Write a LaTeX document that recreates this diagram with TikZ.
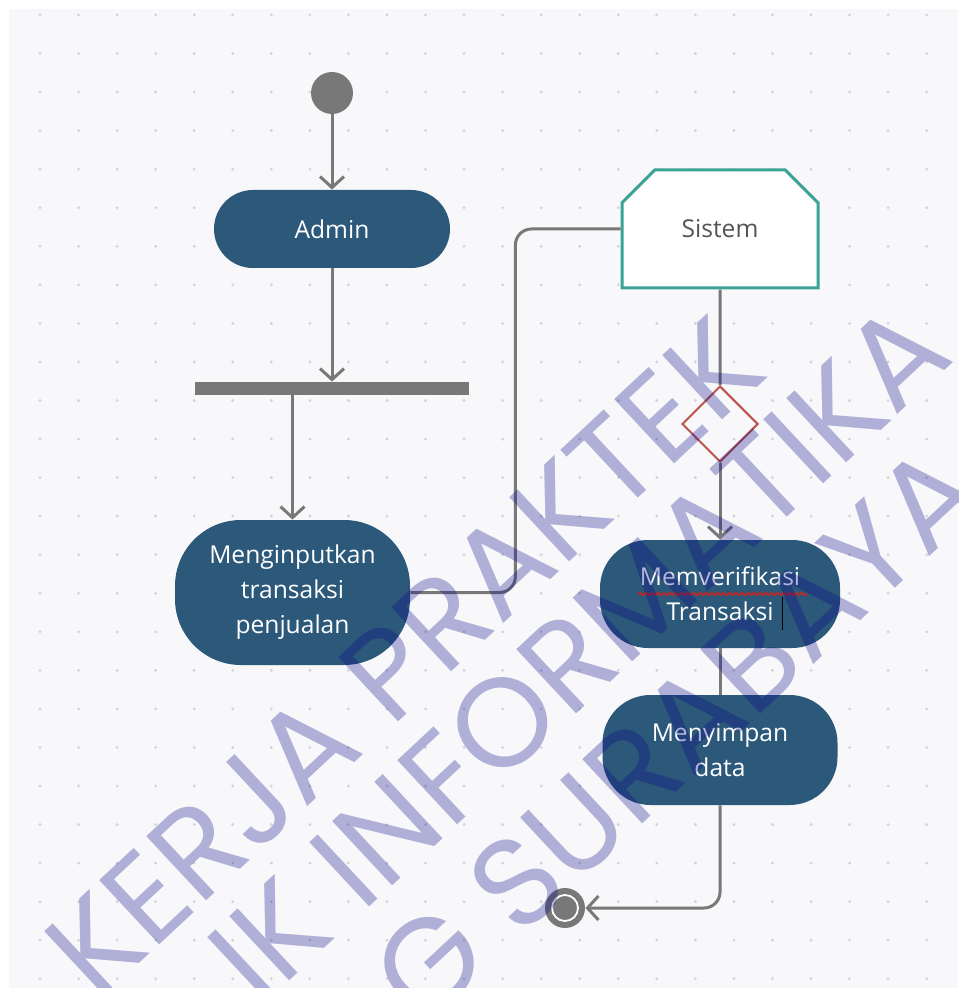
\documentclass[tikz,border=0pt]{standalone}
\usepackage{fontspec}
\setsansfont{Open Sans}
\newfontfamily\wmfont{Poppins}
\usetikzlibrary{arrows.meta,positioning,calc,shapes.geometric,shapes.misc,decorations.pathmorphing}

\definecolor{actblue}{RGB}{44,88,122}
\definecolor{linegray}{RGB}{120,120,120}
\definecolor{systeal}{RGB}{58,163,150}
\definecolor{decred}{RGB}{188,82,78}
\definecolor{textgray}{RGB}{85,85,85}
\definecolor{canvas}{RGB}{248,248,250}
\definecolor{dotgray}{RGB}{212,212,218}
\definecolor{wmblue}{RGB}{8,8,137}
\definecolor{spellred}{RGB}{190,40,40}

\begin{document}
\begin{tikzpicture}[
    x=0.5pt, y=-0.5pt, % one unit = one pixel of the screenshot
    font=\sffamily\fontsize{12.3}{17.5}\selectfont,
    >={Straight Barb[length=5.5pt,width=12pt]},
    % shared styles
    flow/.style={draw=linegray, line width=1.5pt},
    activity/.style={
        rectangle,
        fill=actblue,
        text=white,
        align=center,
        inner sep=2pt
    },
    sysbox/.style={
        chamfered rectangle,
        chamfered rectangle corners={north west, north east},
        chamfered rectangle xsep=9pt,
        chamfered rectangle ysep=8.5pt,
        draw=systeal, line width=1.5pt, fill=white, text=textgray,
        minimum width=98pt, minimum height=59pt
    },
    decision/.style={diamond, draw=decred, line width=1pt, inner sep=0pt,
        minimum width=38pt, minimum height=38pt},
    forkbar/.style={rectangle, fill=linegray, inner sep=0pt,
        minimum width=137pt, minimum height=6.5pt},
    startdot/.style={circle, fill=linegray, inner sep=0pt, minimum size=21pt},
    enddot/.style={circle, fill=linegray, inner sep=0pt, minimum size=20pt},
    endring/.style={circle, draw=white, line width=0.9pt, inner sep=0pt, minimum size=13pt},
    watermark/.style={font=\wmfont\fontsize{63}{63}\selectfont, text=wmblue,
        text opacity=0.3, rotate=43, inner sep=0pt, anchor=mid west}
]
    % --- 0. Canvas with dot grid ---
    \fill[white] (0,0) rectangle (958,988);
    \fill[canvas] (9,9) rectangle (958,988);
    \foreach \i in {0,...,23}
        \foreach \j in {0,...,25}
            \fill[dotgray] ({40+38.55*\i},{15+38.55*\j}) circle[radius=1.6];
    \useasboundingbox (0,0) rectangle (958,988);

    % --- 1. Start ---
    \node[startdot] (start) at (332,93) {};

    % --- 2. Admin ---
    \node[activity, minimum width=118pt, minimum height=39pt, rounded corners=19.5pt] (admin) at (332,229) {Admin};

    % --- 3. Fork bar ---
    \node[forkbar] (fork) at (332,388.5) {};

    % --- 4. Menginputkan transaksi penjualan ---
    \node[activity, minimum width=117.5pt, minimum height=72.5pt, rounded corners=33pt] (input) at (292.5,592.5) {Menginputkan\\transaksi\\penjualan};

    % --- 5. Sistem ---
    \node[sysbox] (sistem) at (720,229) {Sistem};

    % --- 6. Decision ---
    \node[decision] (check) at (720,424) {};

    % --- 7. Memverifikasi Transaksi ---
    \node[activity, minimum width=120pt, minimum height=54pt, rounded corners=24pt] (verify) at (720,594) {Memverifikasi\\Transaksi};
    % spell-check underline and text cursor
    \draw[spellred, line width=0.9pt, decorate, decoration={snake, amplitude=0.6pt, segment length=3pt}]
        ($(verify.center)+(-82,0)$) -- ($(verify.center)+(87,0)$);
    \draw[black, line width=0.5pt] ($(verify.center)+(62,3)$) -- ($(verify.center)+(62,36)$);

    % --- 8. Menyimpan data ---
    \node[activity, minimum width=117.5pt, minimum height=55pt, rounded corners=24pt] (save) at (720,750) {Menyimpan\\data};

    % --- 9. End ---
    \node[enddot] (finish) at (565,908) {};
    \node[endring] (finishring) at (finish) {};

    % --- 10. Arrows ---
    \draw[flow, ->] (start) -- (admin);
    \draw[flow, ->] (admin) -- (fork);
    \draw[flow, ->] (fork.south -| input.north) -- (input.north);
    \draw[flow, rounded corners=8pt] (input.east) -- ++(105,0) |- (sistem.west);
    \draw[flow] (sistem) -- (check);
    \draw[flow, ->] (check) -- (verify);
    \draw[flow] (verify) -- (save);
    \draw[flow, ->, rounded corners=8pt] (save.south) |- (finish.east);

    % --- 11. Watermark ---
    \begin{scope}
        \clip (0,0) rectangle (958,988);
        \node[watermark] (wmone) at (94,1000) {KERJA PRAKTEK};
        \node[watermark] (wmtwo) at (257,1006) {IK INFORMATIKA};
        \node[watermark] (wmthree) at (420,1026) {G SURABAYA};
    \end{scope}
\end{tikzpicture}
\end{document}
